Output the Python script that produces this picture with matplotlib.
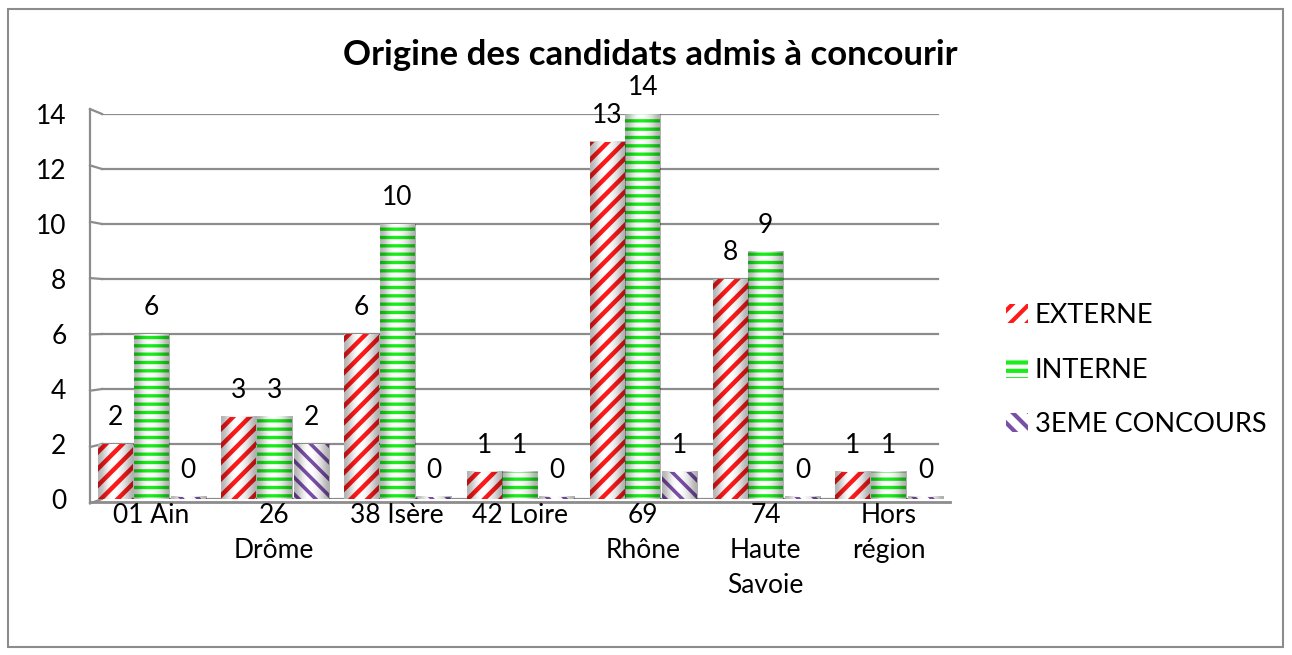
import numpy as np
import matplotlib
matplotlib.use("Agg")
import matplotlib.pyplot as plt
from matplotlib.patches import Rectangle

plt.rcParams['font.family'] = ['Lato', 'DejaVu Sans']

categories = ["01 Ain", "26\nDrôme", "38 Isère", "42 Loire", "69\nRhône", "74\nHaute\nSavoie", "Hors\nrégion"]
externe = [2, 3, 6, 1, 13, 8, 1]
interne = [6, 3, 10, 1, 14, 9, 1]
troisieme = [0, 2, 0, 0, 1, 0, 0]
series_names = ["EXTERNE", "INTERNE", "3EME CONCOURS"]
yticks = [0, 2, 4, 6, 8, 10, 12, 14]

colors = ["#ff1a1a", "#1aee1a", "#7a4fa8"]
hatches = ["//", "--", "\\\\"]
hatch_lw = [3.2, 2.4, 2.6]
offsets = [-0.29, 0.0, 0.30]
width = 0.285

fig = plt.figure(figsize=(12.92, 6.55), dpi=100)
fig.patches.append(Rectangle((8 / 1292, 1 - 647 / 655), 1275 / 1292, 638 / 655,
                             transform=fig.transFigure, fill=False,
                             edgecolor="#8c8c8c", linewidth=1.5))

ax = fig.add_axes([90 / 1292, 1 - 499 / 655, 860 / 1292, 385 / 655])
for s in ax.spines.values():
    s.set_visible(False)

# back wall gridlines with a small perspective bevel on the left
dx = 12 / 122.7
for v in yticks:
    ax.plot([-0.5 + dx, 6.5 - dx], [v, v], color="#8c8c8c", lw=1.6, zorder=1)
    d = 0.16 - 0.34 * v / 14
    ax.plot([-0.5, -0.5 + dx], [v - d, v], color="#8c8c8c", lw=1.6, zorder=1, clip_on=False)
ax.plot([-0.5, -0.5], [-0.16, 14.18], color="#8c8c8c", lw=1.6, zorder=1, clip_on=False)
ax.plot([-0.5, 6.5], [-0.1, -0.1], color="#8c8c8c", lw=2.0, zorder=1, clip_on=False)

x = np.arange(len(categories))
alpha_profile = np.array([0.30, 0.12, 0.0, 0.0, 0.06, 0.16, 0.32])
shade = np.zeros((1, len(alpha_profile), 4))
shade[0, :, 3] = alpha_profile

for vals, col, h, hlw, off, name in zip([externe, interne, troisieme], colors, hatches,
                                        hatch_lw, offsets, series_names):
    hv = [v if v > 0 else 0.08 for v in vals]
    with plt.rc_context({'hatch.linewidth': hlw}):
        bars = ax.bar(x + off, hv, width, color="white", edgecolor=col, hatch=h,
                      linewidth=0, zorder=3, label=name)
    for b, v in zip(bars, vals):
        x0, w, hh = b.get_x(), b.get_width(), b.get_height()
        ax.imshow(shade, aspect="auto", extent=(x0, x0 + w, 0, hh), zorder=4,
                  interpolation="bicubic")
        ax.annotate(str(v), (x0 + w / 2, hh), xytext=(0, 19), textcoords="offset points",
                    ha="center", va="center", fontsize=19, zorder=6)

ax.set_xlim(-0.5, 6.5)
ax.set_ylim(0, 14)
ax.set_yticks(yticks)
ax.set_yticklabels([str(t) for t in yticks], fontsize=19)
ax.set_xticks(x)
ax.set_xticklabels(categories, fontsize=19, linespacing=1.5, va="top")
ax.tick_params(axis="y", length=0, pad=17)
ax.tick_params(axis="x", length=0, pad=3)

fig.text(650 / 1292, 1 - 55 / 655, "Origine des candidats admis à concourir",
         ha="center", va="center", fontsize=25, fontweight="bold")

with plt.rc_context({'hatch.linewidth': 3.0}):
    fig.legend(loc="center left", bbox_to_anchor=(982 / 1292, 1 - 370 / 655),
               frameon=False, fontsize=19.5, handlelength=0.8, handleheight=0.7,
               handletextpad=0.25, labelspacing=1.1)

fig.savefig("out.png", dpi=100)
